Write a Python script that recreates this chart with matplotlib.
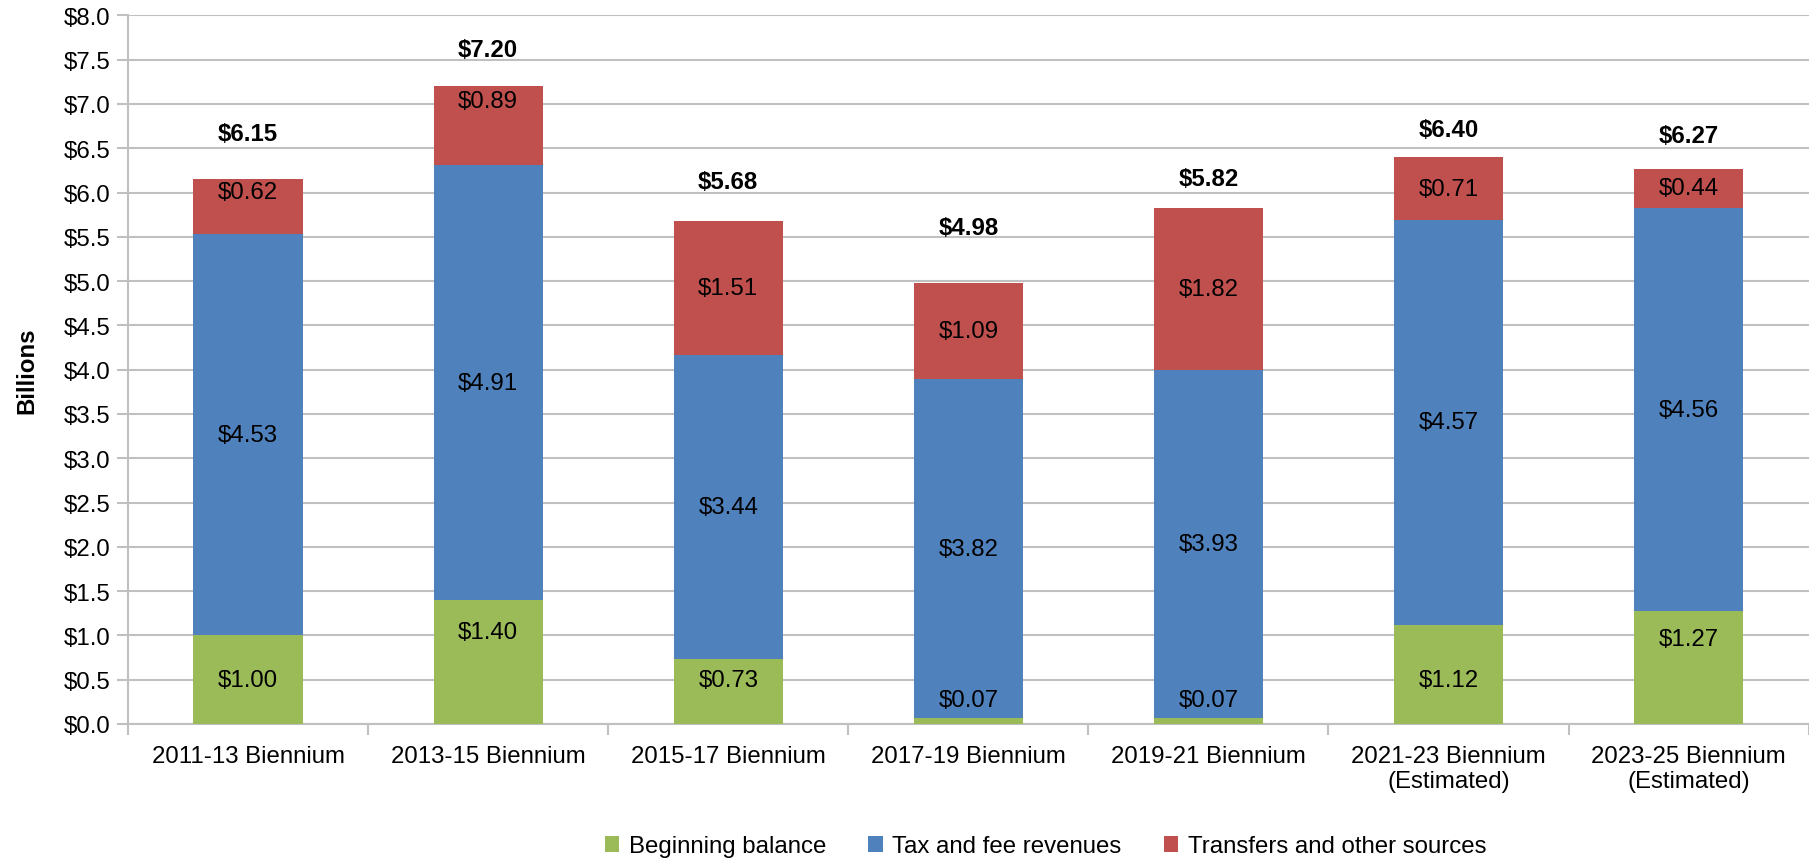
import matplotlib.pyplot as plt
import numpy as np

plt.rcParams['font.family'] = ['Liberation Sans', 'DejaVu Sans']

# data (billions)
categories = ['2011-13 Biennium', '2013-15 Biennium', '2015-17 Biennium', '2017-19 Biennium',
              '2019-21 Biennium', '2021-23 Biennium\n(Estimated)', '2023-25 Biennium\n(Estimated)']
beginning = [1.00, 1.40, 0.73, 0.07, 0.07, 1.12, 1.27]
tax_fee = [4.53, 4.91, 3.44, 3.82, 3.93, 4.57, 4.56]
transfers = [0.62, 0.89, 1.51, 1.09, 1.82, 0.71, 0.44]
totals = [6.15, 7.20, 5.68, 4.98, 5.82, 6.40, 6.27]

# label nudges (as drawn in the original)
green_nudge = [0.0, 0.34, 0.13, 0.24, 0.24, -0.06, 0.32]
red_nudge = [0.17, 0.28, 0.0, 0.0, 0.0, 0.0, 0.0]
total_gap = [0.52, 0.42, 0.44, 0.62, 0.34, 0.31, 0.37]

c_green = '#9BBB59'
c_blue = '#4F81BD'
c_red = '#C0504D'
grid_c = '#C0C0C0'

fig = plt.figure(figsize=(18.09, 8.62), dpi=100)
ax = fig.add_axes([0.0708, 0.159, 0.929, 0.822])

x = np.arange(len(categories))
w = 0.455
b1 = np.array(beginning)
b2 = b1 + np.array(tax_fee)

ax.bar(x, beginning, w, color=c_green, label='Beginning balance', zorder=3)
ax.bar(x, tax_fee, w, bottom=b1, color=c_blue, label='Tax and fee revenues', zorder=3)
ax.bar(x, transfers, w, bottom=b2, color=c_red, label='Transfers and other sources', zorder=3)

fs = 17.3
for i in range(len(x)):
    ax.text(x[i], beginning[i] / 2 + green_nudge[i], f'${beginning[i]:.2f}',
            ha='center', va='center', fontsize=fs, zorder=4)
    ax.text(x[i], b1[i] + tax_fee[i] / 2, f'${tax_fee[i]:.2f}',
            ha='center', va='center', fontsize=fs, zorder=4)
    ax.text(x[i], b2[i] + transfers[i] / 2 + red_nudge[i], f'${transfers[i]:.2f}',
            ha='center', va='center', fontsize=fs, zorder=4)
    ax.text(x[i], totals[i] + total_gap[i], f'${totals[i]:.2f}',
            ha='center', va='center', fontsize=fs, fontweight='bold', zorder=4)

ax.set_ylim(0, 8)
ax.set_xlim(-0.5, len(x) - 0.5)
ax.set_yticks(np.arange(0, 8.01, 0.5))
ax.set_yticklabels([f'${v:.1f}' for v in np.arange(0, 8.01, 0.5)], fontsize=fs)
ax.set_xticks(x)
ax.set_xticklabels(categories, fontsize=fs)
ax.tick_params(axis='x', length=0, pad=15)
ax.tick_params(axis='y', length=8, color=grid_c, width=1.5, pad=5)
ax.set_xticks(np.arange(-0.5, len(x), 1), minor=True)
ax.tick_params(axis='x', which='minor', length=8, color=grid_c, width=1.5)

ax.grid(axis='y', color=grid_c, linewidth=1.5, zorder=0)
for s in ['top', 'right']:
    ax.spines[s].set_visible(False)
ax.spines['left'].set_color(grid_c)
ax.spines['left'].set_linewidth(1.5)
ax.spines['bottom'].set_color(grid_c)
ax.spines['bottom'].set_linewidth(1.5)

ax.set_ylabel('Billions', fontsize=fs, fontweight='bold', labelpad=18)

fig.legend(loc='center', bbox_to_anchor=(0.578, 0.017), ncol=3, frameon=False,
           fontsize=fs, handlelength=0.6, handleheight=0.6, handletextpad=0.4,
           columnspacing=1.75)

fig.savefig('out.png', dpi=100, facecolor='white')
